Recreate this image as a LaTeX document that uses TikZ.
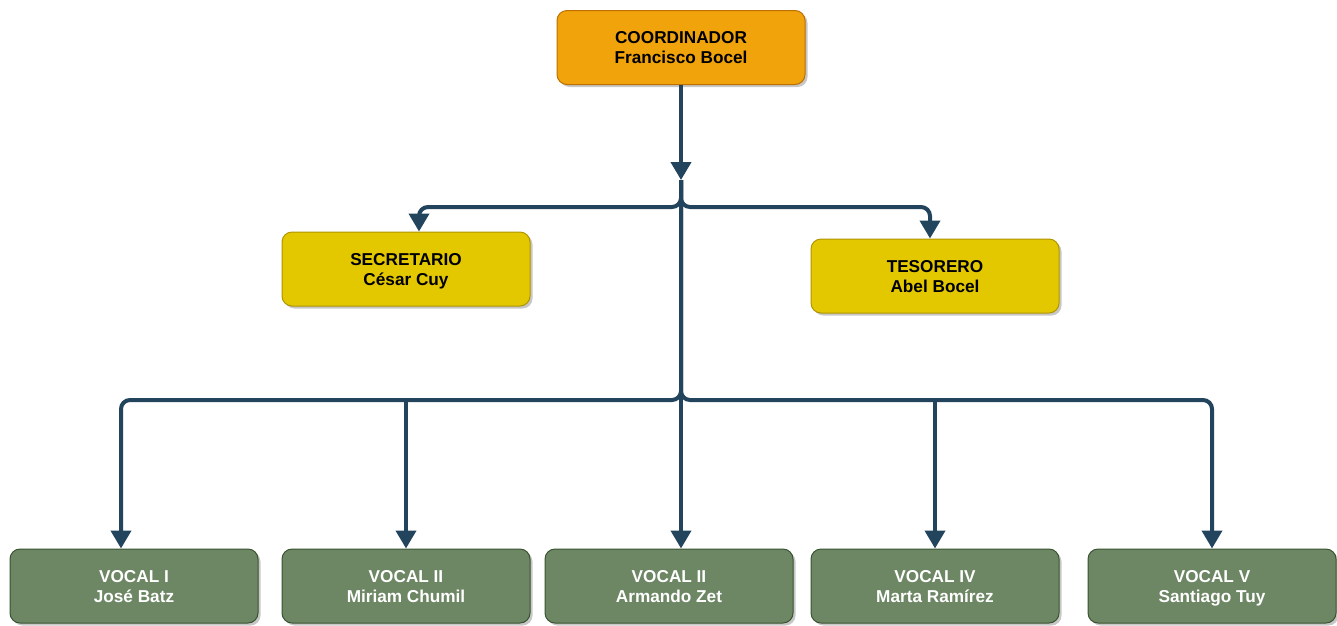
\documentclass[tikz,border=0pt]{standalone}
\usepackage{fontspec}
\setmainfont{Liberation Sans}
\usetikzlibrary{arrows.meta,shadows}
\definecolor{coordfill}{HTML}{F0A30A}
\definecolor{coorddraw}{HTML}{BD7000}
\definecolor{yelfill}{HTML}{E3C800}
\definecolor{yeldraw}{HTML}{B09500}
\definecolor{greenfill}{HTML}{6D8764}
\definecolor{greendraw}{HTML}{3A5431}
\definecolor{linecol}{HTML}{23445D}
\newcommand\boxstrut{\rule[-4pt]{0pt}{20pt}}
\begin{document}
\begin{tikzpicture}[x=1pt,y=-1pt,
  box/.style={rounded corners=10pt, minimum width=248pt, minimum height=74pt,
    align=center, font=\fontsize{17.2}{20}\selectfont\bfseries, line width=1pt,
    inner sep=2pt,
    drop shadow={shadow xshift=2.5pt, shadow yshift=-2.5pt, fill=black, opacity=0.22}},
  orangebox/.style={box, fill=coordfill, draw=coorddraw, text=black},
  yellowbox/.style={box, fill=yelfill, draw=yeldraw, text=black},
  greenbox/.style={box, fill=greenfill, draw=greendraw, text=white},
  conn/.style={draw=linecol, line width=4pt, rounded corners=9pt,
    -{Triangle[length=18pt,width=20pt]}}
]
\useasboundingbox (0,0) rectangle (1337,625);
\fill[white] (0,0) rectangle (1337,625);

\node[orangebox] (coord) at (681,47.5) {\boxstrut COORDINADOR\\\boxstrut Francisco Bocel};
\node[yellowbox] (sec) at (406,269) {\boxstrut SECRETARIO\\\boxstrut César Cuy};
\node[yellowbox] (tes) at (935,276) {\boxstrut TESORERO\\\boxstrut Abel Bocel};
\node[greenbox] (v1) at (134,586) {\boxstrut VOCAL I\\\boxstrut José Batz};
\node[greenbox] (v2) at (406,586) {\boxstrut VOCAL II\\\boxstrut Miriam Chumil};
\node[greenbox] (v3) at (669,586) {\boxstrut VOCAL II\\\boxstrut Armando Zet};
\node[greenbox] (v4) at (935,586) {\boxstrut VOCAL IV\\\boxstrut Marta Ramírez};
\node[greenbox] (v5) at (1212,586) {\boxstrut VOCAL V\\\boxstrut Santiago Tuy};

\coordinate (j1) at (681,180);
\coordinate (hsplit) at (681,207);
\coordinate (vsplit) at (681,400);

\draw[conn] (coord.south) -- (j1);
\draw[conn] (j1) -- (hsplit) -| ([xshift=13pt]sec.north);
\draw[conn] (j1) -- (hsplit) -| ([xshift=-5pt]tes.north);
\draw[conn] (j1) -- (vsplit) -| ([xshift=-13pt]v1.north);
\draw[conn] (j1) -- (vsplit) -| (v5.north);
\draw[conn] (vsplit -| v2.north) -- (v2.north);
\draw[conn] (vsplit -| v4.north) -- (v4.north);
\draw[conn] (j1) -- ([xshift=12pt]v3.north);
\end{tikzpicture}
\end{document}
